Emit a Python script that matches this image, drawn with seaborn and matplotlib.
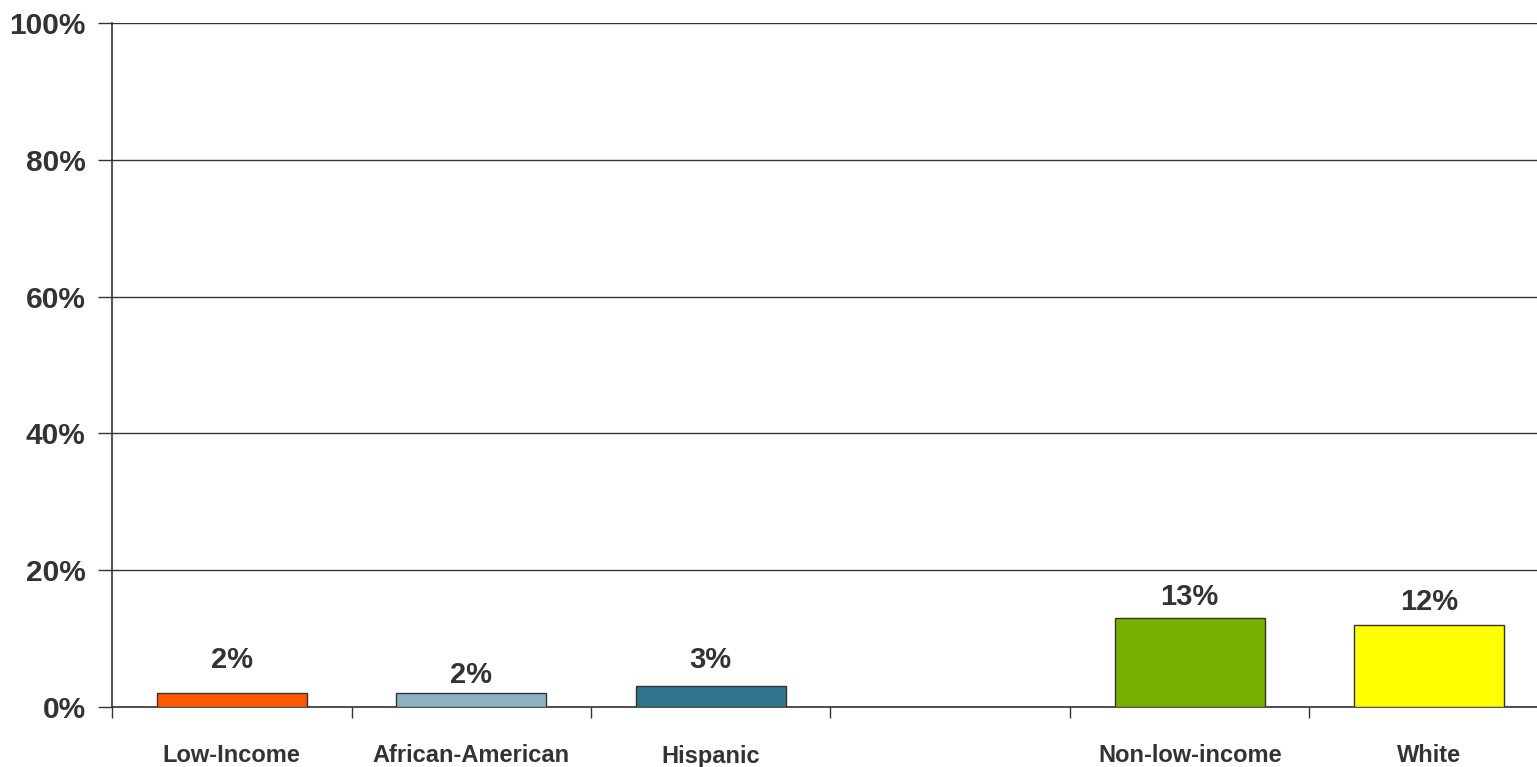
import numpy as np
import pandas as pd
import matplotlib
matplotlib.use("Agg")
import matplotlib.pyplot as plt
import seaborn as sns
from matplotlib.ticker import FixedLocator

categories = ["Low-Income", "African-American", "Hispanic", "Non-low-income", "White"]
values = [2, 2, 3, 13, 12]
slot_order = ["Low-Income", "African-American", "Hispanic", " ", "Non-low-income", "White"]
bar_colors = ["#FF5A00", "#8DB3C2", "#31738B", "#77B000", "#FFFF00"]
label_offsets_px = [33, 18, 26, 21, 23]
y_ticks = [0, 20, 40, 60, 80, 100]

sns.set_theme(style="white")
plt.rcParams["font.family"] = ["Liberation Sans", "DejaVu Sans"]

df = pd.DataFrame({"group": categories, "value": values})
palette = dict(zip(categories, bar_colors))
palette[" "] = "#ffffff"

fig = plt.figure(figsize=(15.37, 7.67), dpi=100)
ax = fig.add_axes([112 / 1537, 1 - 707 / 767, 1425 / 1537, 684 / 767])

sns.barplot(data=df, x="group", y="value", hue="group", order=slot_order,
            hue_order=slot_order, palette=palette, width=0.626, legend=False,
            saturation=1, edgecolor="#333333", linewidth=1.0, ax=ax, zorder=3)

ax.set_xlim(-0.5, -0.5 + 1425 / 239.5)
ax.set_ylim(0, 100)
ax.set_yticks(y_ticks)
ax.set_yticklabels([f"{t}%" for t in y_ticks], fontsize=21.5, fontweight="bold", color="#333333")
ax.yaxis.grid(True, color="#333333", linewidth=1.0, zorder=0)
ax.set_axisbelow(True)

ax.set_xticks(range(len(slot_order)))
ax.set_xticklabels(slot_order, fontsize=17, fontweight="bold", color="#333333")
ax.xaxis.set_minor_locator(FixedLocator([i - 0.5 for i in range(len(slot_order) + 1)]))
ax.tick_params(axis="x", which="major", length=0, pad=27)
ax.tick_params(axis="x", which="minor", length=8, width=1, color="#333333", direction="out", bottom=True)
ax.tick_params(axis="y", which="major", length=10, width=1, color="#333333", direction="out", left=True, pad=9)
ax.set_xlabel("")
ax.set_ylabel("")

for s in ["top", "right"]:
    ax.spines[s].set_visible(False)
for s in ["left", "bottom"]:
    ax.spines[s].set_color("#333333")
    ax.spines[s].set_linewidth(1.2)

for cat, val, off in zip(categories, values, label_offsets_px):
    xi = slot_order.index(cat)
    ax.annotate(f"{val}%", xy=(xi, val), xytext=(0, off), textcoords="offset pixels",
                ha="center", va="center", fontsize=21, fontweight="bold", color="#333333")

fig.savefig("out.png", dpi=100)
